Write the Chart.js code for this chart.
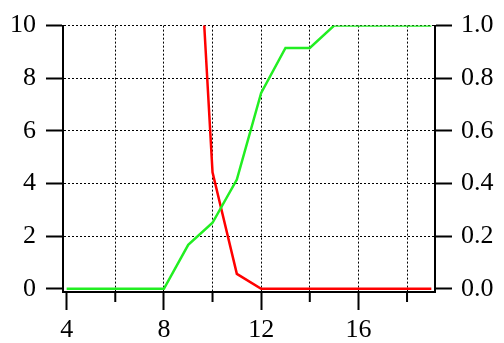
<html><head>
<script src="https://cdn.jsdelivr.net/npm/chart.js@4.4.0/dist/chart.umd.min.js"></script>
<style>
  body { margin: 0; background: #fff; }
  #wrap { width: 504px; height: 343px; }
</style>
</head>
<body>
<div id="wrap"><canvas id="line-chart" width="504" height="343"></canvas></div>
<script>

// data
var redX = [9, 10, 11, 12, 13, 14, 15, 16, 17, 18, 19];
var redY = [20.8, 4.43, 0.57, 0, 0, 0, 0, 0, 0, 0, 0];
var greenX = [4, 5, 6, 7, 8, 9, 10, 11, 12, 13, 14, 15, 16, 17, 18, 19];
var greenY = [0, 0, 0, 0, 0, 0.167, 0.251, 0.415, 0.744, 0.915, 0.915, 1.0, 1.0, 1.0, 1.0, 1.0];

var xTicks = [4, 6, 8, 10, 12, 14, 16, 18];
var xLabelTicks = [4, 8, 12, 16];
var leftTicks = [0, 2, 4, 6, 8, 10];
var rightTicks = [0, 0.2, 0.4, 0.6, 0.8, 1.0];

var font = { family: "Liberation Serif", size: 26 };

function pts(xs, ys) {
  return xs.map(function(x, i) { return { x: x, y: ys[i] }; });
}

// short minor ticks on the x axis (the ones without labels)
var minorTicks = {
  id: 'minorTicks',
  afterDraw: function(chart) {
    var s = chart.scales.x;
    var ctx = chart.ctx;
    ctx.save();
    ctx.strokeStyle = '#000';
    ctx.lineWidth = 2;
    xTicks.forEach(function(v) {
      if (xLabelTicks.indexOf(v) >= 0) return;
      var px = s.getPixelForValue(v);
      ctx.beginPath();
      ctx.moveTo(px, s.top);
      ctx.lineTo(px, s.top + 10);
      ctx.stroke();
    });
    ctx.restore();
  }
};

new Chart(document.getElementById("line-chart"), {
  type: 'line',
  data: {
    datasets: [{
        data: pts(greenX, greenY),
        borderColor: "#22ee22",
        borderWidth: 2.5,
        pointRadius: 0,
        fill: false,
        yAxisID: 'y2'
      }, {
        data: pts(redX, redY),
        borderColor: "#ff0000",
        borderWidth: 2.5,
        pointRadius: 0,
        fill: false,
        yAxisID: 'y'
      }
    ]
  },
  options: {
    responsive: false,
    animation: false,
    layout: { padding: { top: 25, left: 0, right: 0, bottom: 0 } },
    plugins: { legend: { display: false }, tooltip: { enabled: false } },
    scales: {
      x: {
        type: 'linear',
        min: 3.85,
        max: 19.15,
        afterBuildTicks: function(s) { s.ticks = xTicks.map(function(v) { return { value: v }; }); },
        afterFit: function(s) { s.height = 51; },
        ticks: {
          color: '#000',
          font: font,
          padding: 5,
          maxRotation: 0,
          autoSkip: false,
          callback: function(v) { return xLabelTicks.indexOf(v) >= 0 ? String(v) : ''; }
        },
        grid: {
          color: function(c) { return c.tick && c.tick.value === 4 ? 'rgba(0,0,0,0)' : '#000'; },
          lineWidth: 1,
          tickLength: 18,
          tickWidth: 2,
          tickColor: function(c) { return c.tick && xLabelTicks.indexOf(c.tick.value) >= 0 ? '#000' : 'rgba(0,0,0,0)'; }
        },
        border: { display: true, color: '#000', width: 2, dash: [2, 2] }
      },
      y: {
        position: 'left',
        min: -0.12,
        max: 10,
        afterBuildTicks: function(s) { s.ticks = leftTicks.map(function(v) { return { value: v }; }); },
        afterFit: function(s) { s.width = 63; },
        ticks: { color: '#000', font: font, padding: 10 },
        grid: {
          color: function(c) { return c.tick && c.tick.value === 0 ? 'rgba(0,0,0,0)' : '#000'; },
          lineWidth: 1,
          tickLength: 17,
          tickWidth: 2,
          tickColor: '#000'
        },
        border: { display: true, color: '#000', width: 2, dash: [2, 2] }
      },
      y2: {
        position: 'right',
        min: -0.012,
        max: 1.0,
        afterBuildTicks: function(s) { s.ticks = rightTicks.map(function(v) { return { value: v }; }); },
        afterFit: function(s) { s.width = 69; },
        ticks: {
          color: '#000',
          font: font,
          padding: 9,
          callback: function(v) { return v.toFixed(1); }
        },
        grid: {
          drawOnChartArea: false,
          tickLength: 17,
          tickWidth: 2,
          tickColor: '#000'
        },
        border: { display: true, color: '#000', width: 2 }
      }
    }
  },
  plugins: [minorTicks]
});
</script>
</body>
</html>
